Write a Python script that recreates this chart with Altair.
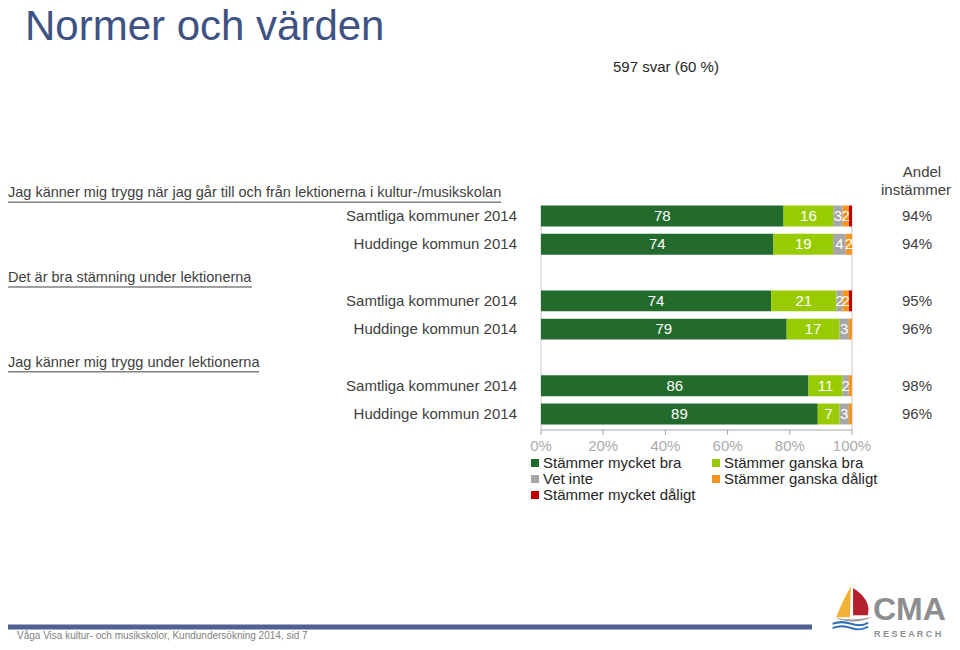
import altair as alt
import pandas as pd

# ---------------- data ----------------
groups = [
    "Jag känner mig trygg när jag går till och från lektionerna i kultur-/musikskolan",
    "Det är bra stämning under lektionerna",
    "Jag känner mig trygg under lektionerna",
]
rows = ["Samtliga kommuner 2014", "Huddinge kommun 2014"]
categories = ["Stämmer mycket bra", "Stämmer ganska bra", "Vet inte",
              "Stämmer ganska dåligt", "Stämmer mycket dåligt"]
colors = ["#236B2D", "#99CC00", "#A6A6A6", "#F7941D", "#C00000"]

g1_samtliga = [78, 16, 3, 2, 1]
g1_huddinge = [74, 19, 4, 2, 0]
g2_samtliga = [74, 21, 2, 2, 1]
g2_huddinge = [79, 17, 3, 1, 0]
g3_samtliga = [86, 11, 2, 1, 0]
g3_huddinge = [89, 7, 3, 1, 0]
series = [[g1_samtliga, g1_huddinge], [g2_samtliga, g2_huddinge], [g3_samtliga, g3_huddinge]]

andel = [94, 94, 95, 96, 98, 96]
ticks = [0, 20, 40, 60, 80, 100]

title_text = "Normer och värden"
subtitle_text = "597 svar (60 %)"
footer_text = "Våga Visa kultur- och musikskolor, Kundundersökning 2014, sid 7"

# ---------------- layout ----------------
W, H = 944, 634
FONT = "Liberation Sans"
xs = alt.Scale(domain=[0, 100], range=[533, 844], nice=False, zero=False)
ys = alt.Scale(domain=[0, 7], range=[208, 406], nice=False, zero=False)
half = 0.37

bar_recs, row_recs = [], []
k = 0
for g, pair in enumerate(series):
    for r, vals in enumerate(pair):
        slot = g * 3 + r
        tot = sum(vals)
        cum = 0.0
        for c, v in enumerate(vals):
            s = v / tot * 100
            bar_recs.append(dict(cat=categories[c], val=v, x0=cum, x1=cum + s,
                                 mid=cum + s / 2, y0=slot - half, y1=slot + half,
                                 slot=slot, lab=str(v) if v >= 2 else ""))
            cum += s
        row_recs.append(dict(slot=slot, name=rows[r], andel=f"{andel[k]}%"))
        k += 1
bars = pd.DataFrame(bar_recs)
rowdf = pd.DataFrame(row_recs)

underline_w = [493, 244, 251]
hdr = pd.DataFrame([dict(name=groups[g], y=g * 3 - 0.8, yu=g * 3 - 0.8 + 0.31, x0=0, w=underline_w[g])
                    for g in range(3)])

tickdf = pd.DataFrame(dict(t=ticks, lab=[f"{t}%" for t in ticks]))

leg = pd.DataFrame([dict(cat=c, px=527 + (i % 2) * 181, tx=535 + (i % 2) * 181,
                         py=455 + (i // 2) * 16) for i, c in enumerate(categories)])

colscale = alt.Scale(domain=categories, range=colors)

bar_layer = alt.Chart(bars).mark_rect().encode(
    x=alt.X("x0:Q", scale=xs, axis=None), x2="x1:Q",
    y=alt.Y("y0:Q", scale=ys, axis=None), y2="y1:Q",
    color=alt.Color("cat:N", scale=colscale, legend=None),
)
bar_text = alt.Chart(bars).mark_text(font=FONT, fontSize=15, color="white", baseline="middle").encode(
    x=alt.X("mid:Q", scale=xs, axis=None),
    y=alt.Y("slot:Q", scale=ys, axis=None),
    text="lab:N",
)

row_text = alt.Chart(rowdf).mark_text(font=FONT, fontSize=15, color="#404040", align="right",
                                      baseline="middle").encode(
    x=alt.value(509), y=alt.Y("slot:Q", scale=ys, axis=None), text="name:N")
andel_text = alt.Chart(rowdf).mark_text(font=FONT, fontSize=15, color="#404040", align="center",
                                        baseline="middle").encode(
    x=alt.value(909), y=alt.Y("slot:Q", scale=ys, axis=None), text="andel:N")

hdr_text = alt.Chart(hdr).mark_text(font=FONT, fontSize=14.5, color="#404040", align="left",
                                    baseline="middle").encode(
    x=alt.value(0), y=alt.Y("y:Q", scale=ys, axis=None), text="name:N")
hdr_line = alt.Chart(hdr).mark_rule(color="#404040", strokeWidth=1).encode(
    x=alt.X("x0:Q", scale=None, axis=None), x2="w:Q",
    y=alt.Y("yu:Q", scale=ys, axis=None))

# axes drawn as rules
axis_df = pd.DataFrame(dict(t=[0, 100]))
vlines = alt.Chart(axis_df).mark_rule(color="#C8C8C8", strokeWidth=1).encode(
    x=alt.X("t:Q", scale=xs, axis=None), y=alt.value(197), y2=alt.value(422))
hline = alt.Chart(pd.DataFrame(dict(a=[0], b=[100]))).mark_rule(color="#A6A6A6", strokeWidth=1).encode(
    x=alt.X("a:Q", scale=xs, axis=None), x2="b:Q", y=alt.value(422))
tick_rules = alt.Chart(tickdf).mark_rule(color="#A6A6A6", strokeWidth=1).encode(
    x=alt.X("t:Q", scale=xs, axis=None), y=alt.value(422), y2=alt.value(427))
tick_labels = alt.Chart(tickdf).mark_text(font=FONT, fontSize=15, color="#ABABAB",
                                          baseline="middle").encode(
    x=alt.X("t:Q", scale=xs, axis=None), y=alt.value(438), text="lab:N")

# legend
leg_sq = alt.Chart(leg).mark_square(size=64, opacity=1, filled=True).encode(
    x=alt.X("px:Q", scale=None, axis=None), y=alt.Y("py:Q", scale=None, axis=None),
    color=alt.Color("cat:N", scale=colscale, legend=None))
leg_tx = alt.Chart(leg).mark_text(font=FONT, fontSize=15, color="#262626", align="left",
                                  baseline="middle").encode(
    x=alt.X("tx:Q", scale=None, axis=None), y=alt.Y("py:Q", scale=None, axis=None), text="cat:N")

# texts
one = pd.DataFrame(dict(a=[0]))
title = alt.Chart(one).mark_text(text=title_text, font=FONT, fontSize=42, color="#3E5283",
                                 align="left", baseline="alphabetic").encode(
    x=alt.value(17), y=alt.value(32))
subtitle = alt.Chart(one).mark_text(text=subtitle_text, font=FONT, fontSize=15, color="#262626",
                                    align="left", baseline="middle").encode(
    x=alt.value(605), y=alt.value(59))
andel_h1 = alt.Chart(one).mark_text(text="Andel", font=FONT, fontSize=15, color="#404040",
                                    baseline="middle").encode(x=alt.value(914), y=alt.value(164))
andel_h2 = alt.Chart(one).mark_text(text="instämmer", font=FONT, fontSize=15, color="#404040",
                                    align="right", baseline="middle").encode(x=alt.value(943), y=alt.value(182))

footer_line = alt.Chart(one).mark_rule(color="#4F6191", strokeWidth=5).encode(
    x=alt.value(0), x2=alt.value(804), y=alt.value(619))
footer = alt.Chart(one).mark_text(text=footer_text, font=FONT, fontSize=10, color="#7F7F7F",
                                  align="left", baseline="middle").encode(
    x=alt.value(9), y=alt.value(628))

# logo
cma = alt.Chart(one).mark_text(text="CMA", font=FONT, fontSize=32, fontWeight="bold",
                               color="#8C8E90", align="left", baseline="alphabetic").encode(
    x=alt.value(865), y=alt.value(612))
research = alt.Chart(one).mark_text(text="R E S E A R C H", font=FONT, fontSize=9, fontWeight="bold",
                                    color="#8C8E90", align="left", baseline="middle").encode(
    x=alt.value(866), y=alt.value(626))
logo_paths = [
    "M 0 -1 Q -0.4 -0.3 -0.64 0.36 L -0.05 0.36 Z",
    "M 0.09 -0.91 Q 0.9 -0.4 0.73 0.27 L 0.09 0.27 Z",
    "M -0.7 0.38 Q 0.1 0.55 0.9 0.35 Q 0.2 0.72 -0.7 0.38 Z",
    "M -0.8 0.6 Q -0.4 0.45 0 0.6 Q 0.4 0.75 0.75 0.55 L 0.75 0.64 Q 0.4 0.84 0 0.69 Q -0.4 0.54 -0.8 0.69 Z",
    "M -0.8 0.78 Q -0.4 0.63 0 0.78 Q 0.4 0.93 0.75 0.73 L 0.75 0.82 Q 0.4 1.0 0 0.87 Q -0.4 0.72 -0.8 0.87 Z",
]
logo_cols = ["#F2B134", "#B5202E", "#9A9A9A", "#2D6FB5", "#2D6FB5"]
logo_layers = [
    alt.Chart(one).mark_point(shape=p, size=46 * 46, filled=True, opacity=1, color=c,
                              strokeWidth=0).encode(x=alt.value(843), y=alt.value(601))
    for p, c in zip(logo_paths, logo_cols)
]

chart = alt.layer(
    vlines, hline, tick_rules, tick_labels,
    bar_layer, bar_text, row_text, andel_text, hdr_text, hdr_line,
    leg_sq, leg_tx, title, subtitle, andel_h1, andel_h2, footer_line, footer,
    cma, research, *logo_layers,
).resolve_scale(x="independent", y="independent", color="independent").properties(
    width=W, height=H, autosize=alt.AutoSizeParams(type="none"), padding=0,
    background="white",
).configure_view(stroke=None)

chart.save("out.html", embed_options={"renderer": "svg", "actions": False})
